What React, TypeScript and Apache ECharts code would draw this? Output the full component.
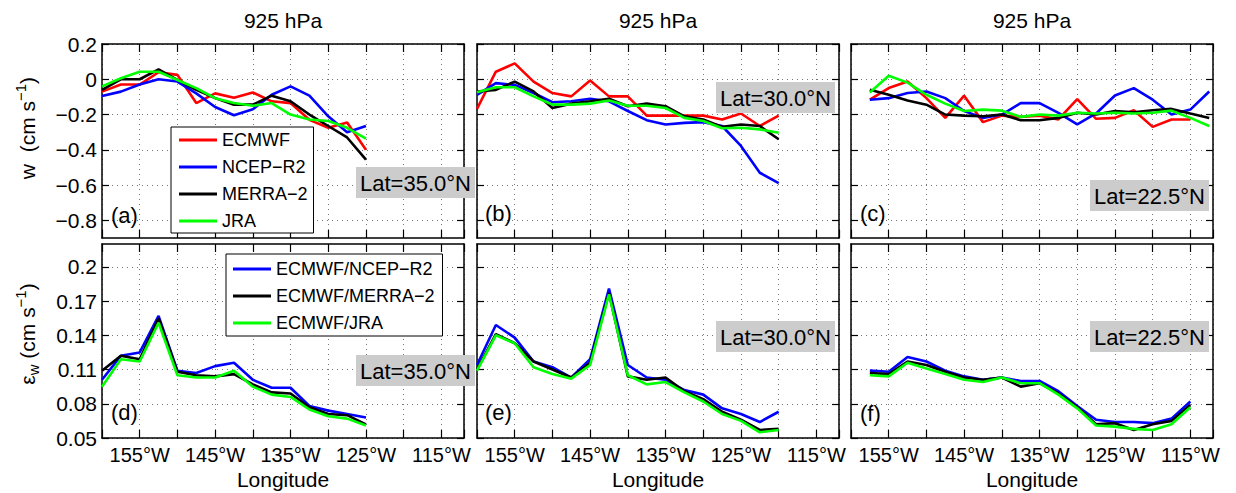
import React, { useEffect, useRef } from 'react';
import * as echarts from 'echarts';

const FONT = '"Liberation Sans", Arial, Helvetica, sans-serif';

// Longitudes (deg, negative = West)
const LON_A = [-160, -157.5, -155, -152.5, -150, -147.5, -145, -142.5, -140, -137.5, -135, -132.5, -130, -127.5, -125];
const LON_B = [-160, -157.5, -155, -152.5, -150, -147.5, -145, -142.5, -140, -137.5, -135, -132.5, -130, -127.5, -125, -122.5, -120];
const LON_C = [-157.5, -155, -152.5, -150, -147.5, -145, -142.5, -140, -137.5, -135, -132.5, -130, -127.5, -125, -122.5, -120, -117.5, -115, -112.5];
const LON_F = [-157.5, -155, -152.5, -150, -147.5, -145, -142.5, -140, -137.5, -135, -132.5, -130, -127.5, -125, -122.5, -120, -117.5, -115];

// Top row: w (cm/s)
const A_ECMWF = [-0.07, -0.03, -0.03, 0.04, 0.025, -0.135, -0.08, -0.105, -0.075, -0.125, -0.135, -0.23, -0.275, -0.245, -0.4];
const A_NCEP = [-0.095, -0.07, -0.03, 0.0, -0.013, -0.08, -0.157, -0.204, -0.17, -0.088, -0.04, -0.093, -0.21, -0.3, -0.265];
const A_MERRA = [-0.06, 0.0, 0.0, 0.056, -0.004, -0.06, -0.107, -0.144, -0.144, -0.093, -0.125, -0.2, -0.265, -0.33, -0.456];
const A_JRA = [-0.04, 0.006, 0.043, 0.043, -0.004, -0.05, -0.107, -0.135, -0.15, -0.135, -0.2, -0.228, -0.237, -0.275, -0.336];

const B_ECMWF = [-0.168, 0.043, 0.09, -0.013, -0.078, -0.097, -0.007, -0.097, -0.097, -0.206, -0.206, -0.206, -0.206, -0.228, -0.194, -0.265, -0.206];
const B_NCEP = [-0.088, -0.022, -0.032, -0.078, -0.13, -0.125, -0.11, -0.125, -0.18, -0.232, -0.256, -0.247, -0.243, -0.265, -0.378, -0.53, -0.589];
const B_MERRA = [-0.069, -0.06, -0.013, -0.069, -0.163, -0.138, -0.125, -0.11, -0.153, -0.138, -0.153, -0.21, -0.228, -0.27, -0.256, -0.265, -0.34];
const B_JRA = [-0.073, -0.045, -0.045, -0.097, -0.144, -0.144, -0.138, -0.12, -0.15, -0.15, -0.163, -0.219, -0.237, -0.278, -0.275, -0.284, -0.303];

const C_ECMWF = [-0.116, -0.05, -0.013, -0.107, -0.219, -0.093, -0.243, -0.206, -0.213, -0.206, -0.228, -0.112, -0.224, -0.219, -0.176, -0.27, -0.228, -0.228];
const C_NCEP = [-0.116, -0.107, -0.078, -0.069, -0.107, -0.18, -0.219, -0.2, -0.135, -0.135, -0.19, -0.256, -0.194, -0.092, -0.05, -0.116, -0.2, -0.172, -0.069];
const C_MERRA = [-0.06, -0.088, -0.12, -0.144, -0.2, -0.206, -0.21, -0.2, -0.232, -0.232, -0.219, -0.19, -0.2, -0.18, -0.187, -0.176, -0.168, -0.194, -0.219];
const C_JRA = [-0.075, 0.02, -0.019, -0.088, -0.138, -0.18, -0.172, -0.178, -0.213, -0.2, -0.206, -0.19, -0.194, -0.19, -0.194, -0.19, -0.178, -0.219, -0.265];

// Bottom row: epsilon_w (cm/s)
const D_NCEP = [0.101, 0.122, 0.125, 0.157, 0.109, 0.107, 0.113, 0.116, 0.101, 0.094, 0.094, 0.078, 0.074, 0.071, 0.068];
const D_MERRA = [0.109, 0.122, 0.119, 0.155, 0.108, 0.105, 0.104, 0.106, 0.097, 0.09, 0.089, 0.077, 0.071, 0.07, 0.062];
const D_JRA = [0.095, 0.119, 0.117, 0.151, 0.105, 0.103, 0.103, 0.109, 0.095, 0.088, 0.086, 0.075, 0.069, 0.067, 0.061];

const E_NCEP = [0.114, 0.149, 0.138, 0.117, 0.112, 0.103, 0.119, 0.181, 0.114, 0.103, 0.101, 0.092, 0.088, 0.076, 0.071, 0.064, 0.073];
const E_MERRA = [0.11, 0.141, 0.133, 0.117, 0.11, 0.103, 0.116, 0.177, 0.104, 0.101, 0.103, 0.091, 0.084, 0.073, 0.066, 0.057, 0.058];
const E_JRA = [0.109, 0.14, 0.133, 0.112, 0.106, 0.102, 0.114, 0.176, 0.105, 0.097, 0.099, 0.09, 0.082, 0.071, 0.065, 0.055, 0.057];

const F_NCEP = [0.109, 0.108, 0.121, 0.117, 0.109, 0.104, 0.101, 0.103, 0.1, 0.1, 0.091, 0.078, 0.066, 0.064, 0.064, 0.063, 0.067, 0.082];
const F_MERRA = [0.107, 0.106, 0.117, 0.114, 0.108, 0.103, 0.101, 0.103, 0.095, 0.098, 0.089, 0.077, 0.062, 0.063, 0.057, 0.062, 0.065, 0.079];
const F_JRA = [0.105, 0.104, 0.116, 0.111, 0.106, 0.101, 0.099, 0.103, 0.098, 0.098, 0.088, 0.076, 0.061, 0.06, 0.058, 0.057, 0.062, 0.077];

const TOP_NAMES = ['ECMWF', 'NCEP\u2212R2', 'MERRA\u22122', 'JRA'];
const TOP_COLORS = ['#ff0000', '#0000ff', '#000000', '#00ff00'];
const BOT_NAMES = ['ECMWF/NCEP\u2212R2', 'ECMWF/MERRA\u22122', 'ECMWF/JRA'];
const BOT_COLORS = ['#0000ff', '#000000', '#00ff00'];

const TOP_TICKS = [-0.8, -0.6, -0.4, -0.2, 0, 0.2];
const BOT_TICKS = [0.05, 0.08, 0.11, 0.14, 0.17, 0.2];
const LON_LABELS = [-155, -145, -135, -125, -115];

const TITLES = ['925 hPa', '925 hPa', '925 hPa'];
const LETTERS = ['(a)', '(b)', '(c)', '(d)', '(e)', '(f)'];
const LAT_LABELS = ['Lat=35.0\u00b0N', 'Lat=30.0\u00b0N', 'Lat=22.5\u00b0N', 'Lat=35.0\u00b0N', 'Lat=30.0\u00b0N', 'Lat=22.5\u00b0N'];

// layout
const GRID_LEFT = [102, 477, 851];
const GRID_TOP = [44, 244];
const GW = 362;
const GH = 194;
const LAT_BOX = [
  [356, 167], [716, 82], [1090, 180],
  [356, 355], [716, 321], [1090, 321],
];
const LETTER_POS = [
  [111, 215], [485, 213], [860, 213],
  [111, 412], [485, 412], [860, 413],
];

const PANELS: { lon: number[][]; vals: number[][]; names: string[]; colors: string[] }[] = [
  { lon: [LON_A, LON_A, LON_A, LON_A], vals: [A_ECMWF, A_NCEP, A_MERRA, A_JRA], names: TOP_NAMES, colors: TOP_COLORS },
  { lon: [LON_B, LON_B, LON_B, LON_B], vals: [B_ECMWF, B_NCEP, B_MERRA, B_JRA], names: TOP_NAMES, colors: TOP_COLORS },
  { lon: [LON_F, LON_C, LON_C, LON_C], vals: [C_ECMWF, C_NCEP, C_MERRA, C_JRA], names: TOP_NAMES, colors: TOP_COLORS },
  { lon: [LON_A, LON_A, LON_A], vals: [D_NCEP, D_MERRA, D_JRA], names: BOT_NAMES, colors: BOT_COLORS },
  { lon: [LON_B, LON_B, LON_B], vals: [E_NCEP, E_MERRA, E_JRA], names: BOT_NAMES, colors: BOT_COLORS },
  { lon: [LON_F, LON_F, LON_F], vals: [F_NCEP, F_MERRA, F_JRA], names: BOT_NAMES, colors: BOT_COLORS },
];

const fmtNum = (v: number) => {
  const r = Math.round(v * 100) / 100;
  return String(r).replace('-', '\u2212');
};
const fmtLon = (v: number) => {
  const r = Math.round(v);
  return LON_LABELS.indexOf(r) >= 0 ? `${-r}\u00b0W` : '';
};

function buildOption() {
  const axisLine = { show: true, onZero: false, lineStyle: { color: '#000', width: 1.5 } };
  const tickStyle = { color: '#000', width: 1.2 };
  const gridLine = { show: true, lineStyle: { color: '#777', width: 1, type: [1, 4] as any } };
  const labelStyle = { color: '#000', fontSize: 21, fontFamily: FONT };

  const grid: any[] = [];
  const xAxis: any[] = [];
  const yAxis: any[] = [];
  const series: any[] = [];

  for (let r = 0; r < 2; r++) {
    for (let c = 0; c < 3; c++) {
      const idx = r * 3 + c;
      grid.push({ left: GRID_LEFT[c], top: GRID_TOP[r], width: GW, height: GH, containLabel: false });
      const xBase = { type: 'value', gridIndex: idx, min: -160, max: -112, interval: 5 };
      xAxis.push({
        ...xBase,
        position: 'bottom',
        axisLine,
        axisTick: { show: true, inside: true, length: 8, lineStyle: tickStyle },
        splitLine: gridLine,
        axisLabel: { show: r === 1, formatter: fmtLon, margin: 7, ...labelStyle, fontSize: 20 },
      });
      xAxis.push({
        ...xBase,
        position: 'top',
        axisLine,
        axisTick: { show: true, inside: true, length: 8, lineStyle: tickStyle },
        splitLine: { show: false },
        axisLabel: { show: false },
      });
      const ticks = r === 0 ? TOP_TICKS : BOT_TICKS;
      const yBase: any =
        r === 0
          ? { type: 'value', gridIndex: idx, min: -0.9, max: 0.2 }
          : { type: 'value', gridIndex: idx, min: 0.05, max: 0.22, interval: 0.03 };
      yAxis.push({
        ...yBase,
        position: 'left',
        axisLine,
        axisTick: { show: true, inside: true, length: 7, lineStyle: tickStyle, customValues: ticks },
        splitLine: { ...gridLine, customValues: ticks },
        axisLabel: { show: c === 0, customValues: ticks, formatter: fmtNum, margin: 5, ...labelStyle },
      });
      yAxis.push({
        ...yBase,
        position: 'right',
        axisLine,
        axisTick: { show: true, inside: true, length: 7, lineStyle: tickStyle, customValues: ticks },
        splitLine: { show: false },
        axisLabel: { show: false },
      });

      const p = PANELS[idx];
      p.vals.forEach((vals, k) => {
        series.push({
          type: 'line',
          name: p.names[k],
          xAxisIndex: 2 * idx,
          yAxisIndex: 2 * idx,
          data: p.lon[k].map((x, i) => [x, vals[i]]),
          showSymbol: false,
          symbol: 'none',
          color: p.colors[k],
          lineStyle: { color: p.colors[k], width: 2.6 },
          silent: true,
          z: 3 + k,
        });
      });
    }
  }

  const legendCommon = {
    orient: 'vertical',
    icon: 'rect',
    itemWidth: 38,
    itemHeight: 3,
    itemGap: 7,
    selectedMode: false,
    backgroundColor: '#fff',
    borderColor: '#000',
    borderWidth: 1,
    borderRadius: 0,
    textStyle: { color: '#000', fontSize: 18, lineHeight: 20, fontFamily: FONT },
    z: 20,
  };
  const legend = [
    { ...legendCommon, data: TOP_NAMES, left: 171, top: 127, padding: [3, 6, 2, 8] },
    { ...legendCommon, data: BOT_NAMES, left: 226, top: 254, padding: [5, 8, 3, 7] },
  ];

  const graphic: any[] = [];
  for (let c = 0; c < 3; c++) {
    const cx = GRID_LEFT[c] + GW / 2;
    graphic.push({ type: 'text', x: cx, y: 20, z: 30, style: { text: TITLES[c], fill: '#000', fontSize: 21, fontFamily: FONT, align: 'center', verticalAlign: 'middle' } });
    graphic.push({ type: 'text', x: cx, y: 479, z: 30, style: { text: 'Longitude', fill: '#000', fontSize: 21, fontFamily: FONT, align: 'center', verticalAlign: 'middle' } });
  }
  LETTERS.forEach((t, i) => {
    graphic.push({ type: 'text', x: LETTER_POS[i][0], y: LETTER_POS[i][1], z: 30, style: { text: t, fill: '#000', fontSize: 22, fontFamily: FONT, align: 'left', verticalAlign: 'middle' } });
  });
  LAT_LABELS.forEach((t, i) => {
    const [bx, by] = LAT_BOX[i];
    graphic.push({ type: 'rect', z: 30, shape: { x: bx, y: by, width: 119, height: 31 }, style: { fill: '#cccccc' } });
    graphic.push({ type: 'text', x: bx + 59.5, y: by + 16, z: 31, style: { text: t, fill: '#000', fontSize: 22, fontFamily: FONT, align: 'center', verticalAlign: 'middle' } });
  });
  const rich = {
    m: { fontSize: 21, lineHeight: 28, fontFamily: FONT, fill: '#000', verticalAlign: 'middle' },
    s: { fontSize: 15, lineHeight: 15, fontFamily: FONT, fill: '#000', verticalAlign: 'top' },
    b: { fontSize: 15, lineHeight: 15, fontFamily: FONT, fill: '#000', verticalAlign: 'bottom' },
  };
  graphic.push({ type: 'text', x: 27, y: 128, rotation: Math.PI / 2, z: 30, style: { text: '{m|w  (cm s}{s|\u22121}{m|)}', rich, align: 'center', verticalAlign: 'middle' } });
  graphic.push({ type: 'text', x: 27, y: 334, rotation: Math.PI / 2, z: 30, style: { text: '{m|\u03b5}{b|w}{m| (cm s}{s|\u22121}{m|)}', rich, align: 'center', verticalAlign: 'middle' } });

  return { animation: false, backgroundColor: '#fff', grid, xAxis, yAxis, series, legend, graphic };
}

export default function App() {
  const ref = useRef<HTMLDivElement>(null);
  useEffect(() => {
    if (!ref.current) return;
    const chart = echarts.init(ref.current, undefined, { renderer: 'svg' });
    chart.setOption(buildOption() as any);
    return () => chart.dispose();
  }, []);
  return <div ref={ref} style={{ position: 'fixed', left: 0, top: 0, width: 1236, height: 493, background: '#fff' }} />;
}
